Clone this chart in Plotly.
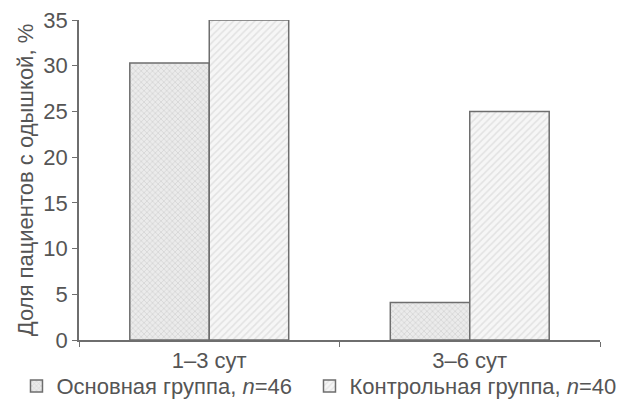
import plotly.graph_objects as go

categories = ["1–3 сут", "3–6 сут"]
main_group = [30.3, 4.1]
control_group = [35.0, 25.0]
main_name = "Основная группа, <i>n</i>=46"
control_name = "Контрольная группа, <i>n</i>=40"
y_ticks = [0, 5, 10, 15, 20, 25, 30, 35]

FONT = "Liberation Sans, Arial, sans-serif"
TXT = "#555555"
LINE = "#6e6e6e"

fig = go.Figure()
fig.add_trace(go.Bar(
    x=categories, y=main_group, name=main_name, legend="legend",
    marker=dict(color="white",
                line=dict(color=LINE, width=1.5),
                pattern=dict(shape="x", size=4, solidity=0.3,
                             fgcolor="#b4b4b4", bgcolor="#ebebeb")),
))
fig.add_trace(go.Bar(
    x=categories, y=control_group, name=control_name, legend="legend2",
    marker=dict(color="white",
                line=dict(color=LINE, width=1.5),
                pattern=dict(shape="/", size=5, solidity=0.3,
                             fgcolor="#cdcdcd", bgcolor="#f6f6f6")),
))

legend_common = dict(orientation="h", xanchor="left", yanchor="middle",
                     y=-0.144, bgcolor="rgba(0,0,0,0)",
                     font=dict(size=22, color=TXT))

fig.update_layout(
    width=631, height=400,
    margin=dict(l=71, r=39, t=12, b=68, autoexpand=False),
    paper_bgcolor="white", plot_bgcolor="white",
    barmode="group", bargap=0.39, bargroupgap=0,
    font=dict(family=FONT, size=22, color=TXT),
    showlegend=True,
    legend=dict(x=-0.12, **legend_common),
    legend2=dict(x=0.4424, **legend_common),
    xaxis=dict(type="category", tickson="boundaries", automargin=False,
               showline=True, linecolor=LINE, linewidth=1.5,
               ticks="outside", ticklen=5, tickcolor=LINE, tickwidth=1,
               showgrid=False, zeroline=False,
               tickfont=dict(size=22, color=TXT)),
    yaxis=dict(range=[0, 35], tickvals=y_ticks, automargin=False,
               ticklabeloverflow="allow",
               showline=True, linecolor=LINE, linewidth=1.5,
               ticks="outside", ticklen=5, tickcolor=LINE, tickwidth=1,
               showgrid=False, zeroline=False,
               tickfont=dict(size=22, color=TXT),
               title=dict(text="Доля пациентов с одышкой, %",
                          font=dict(size=22, color=TXT), standoff=4)),
)

fig.write_html("out.html")
